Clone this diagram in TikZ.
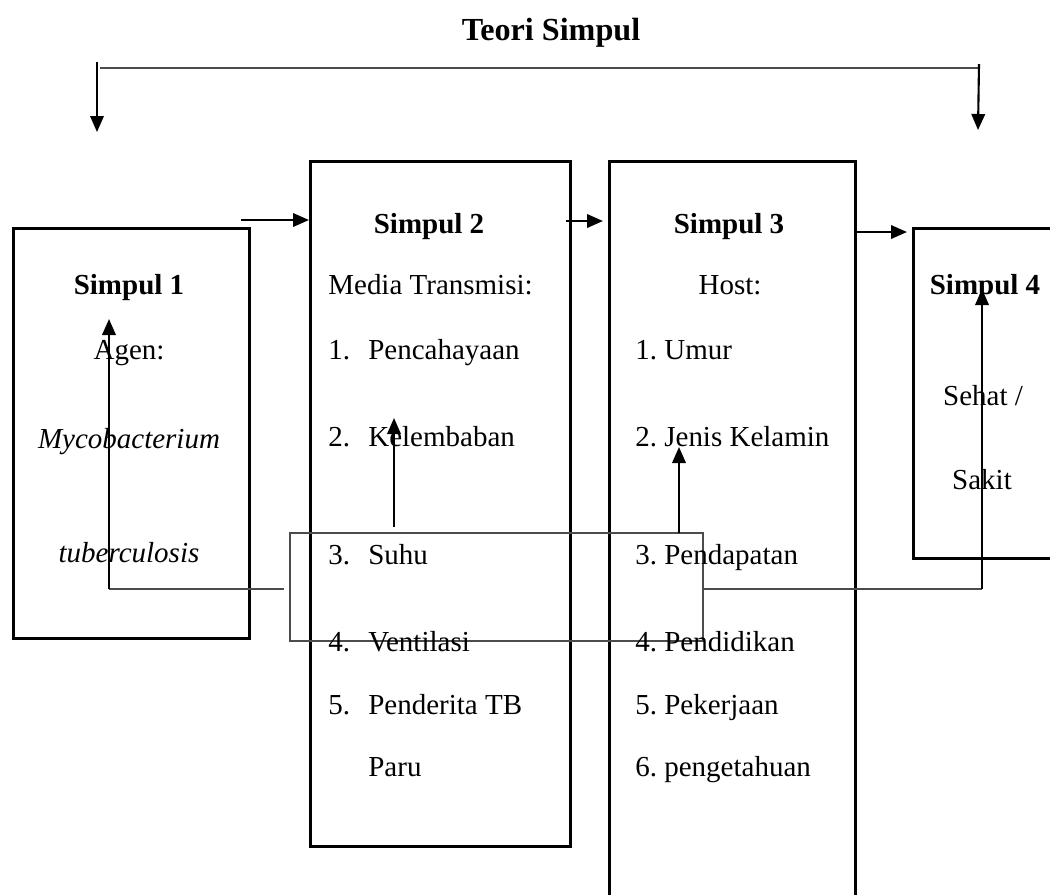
\documentclass[tikz,border=0pt]{standalone}
\usepackage{fontspec}
\setmainfont{Liberation Serif}
\usetikzlibrary{arrows.meta}
\usetikzlibrary{calc}

\tikzset{
  simpul/.style={draw, line width=1.5pt, rectangle, inner sep=0pt, anchor=north west},
  teks/.style={font=\fontsize{16.5}{20}\selectfont, inner sep=0pt, anchor=base},
  tebal/.style={teks, font=\fontsize{16.5}{20}\selectfont\bfseries},
  miring/.style={teks, font=\fontsize{16.5}{20}\selectfont\itshape},
  kiri/.style={teks, anchor=base west},
  panah/.style={line width=1.2pt, -{Triangle[length=0.32cm, width=0.27cm]}},
  garis/.style={line width=0.9pt, black!70},
}

\begin{document}
\frenchspacing
\begin{tikzpicture}[x=0.02cm, y=-0.02cm]
    \useasboundingbox (0,0) rectangle (1050,894);
    \clip (0,0) rectangle (1050,894);

    % judul dan kurung atas
    \node[teks, font=\fontsize{18.3}{22}\selectfont\bfseries] (judul) at (551,40) {Teori Simpul};
    \coordinate (ka) at (100,68); \coordinate (kb) at (978,68);
    \coordinate (ka1) at (97,62); \coordinate (ka2) at (97,132);
    \coordinate (kb1) at (979,64); \coordinate (kb2) at (978,130);
    \draw[garis, line width=1.1pt] (ka) -- (kb);
    \draw[panah] (ka1) -- (ka2);
    \draw[panah] (kb1) -- (kb2);

    % kotak simpul
    \node[simpul, minimum width=4.72cm, minimum height=8.2cm] (s1) at (12,227) {};
    \node[simpul, minimum width=5.2cm, minimum height=13.7cm] (s2) at (309,160) {};
    \node[simpul, minimum width=4.92cm, minimum height=15.4cm] (s3) at (608,160) {};
    \node[simpul, minimum width=3.4cm, minimum height=6.6cm] (s4) at (912,227) {};
    \node[draw, garis, rectangle, inner sep=0pt, anchor=north west,
          minimum width=8.26cm, minimum height=2.16cm] (pusat) at (289,532) {};

    % simpul 1
    \node[tebal] (j1) at (129,294) {Simpul 1};
    \node[teks] (agen) at (129,359) {Agen:};
    \node[miring] (myc) at (129,448) {Mycobacterium};
    \node[miring] (tbc) at (129,562) {tuberculosis};

    % simpul 2
    \node[tebal] (j2) at (429,233) {Simpul 2};
    \node[kiri] (media) at (328,294) {Media Transmisi:};
    \foreach \i/\y/\t in {1/359/Pencahayaan, 2/446/Kelembaban, 3/564/Suhu,
                          4/651/Ventilasi, 5/714/Penderita TB}{
      \node[kiri] (n\i) at (328,\y) {\i.};
      \node[kiri] (m\i) at (368,\y) {\t};
    }
    \node[kiri] (m6) at (368,776) {Paru};

    % simpul 3
    \node[tebal] (j3) at (729,233) {Simpul 3};
    \node[teks] (host) at (730,294) {Host:};
    \foreach \i/\y/\t in {1/359/Umur, 2/446/Jenis Kelamin, 3/564/Pendapatan,
                          4/651/Pendidikan, 5/714/Pekerjaan, 6/776/pengetahuan}{
      \node[kiri] (h\i) at (635,\y) {\i. \t};
    }

    % simpul 4
    \node[tebal] (j4) at (985,294) {Simpul 4};
    \node[teks] (sehat) at (983,405) {Sehat /};
    \node[teks] (sakit) at (982,489) {Sakit};

    % panah antar simpul
    \coordinate (p1) at (241,220); \coordinate (p2) at (566,221); \coordinate (p3) at (854,232);
    \draw[panah] (p1) -- (p1 -| s2.west);
    \draw[panah] (p2) -- ($(p2 -| s3.west)+(-5,0)$);
    \draw[panah] (p3) -- ($(p3 -| s4.west)+(-5,0)$);

    % panah dalam kotak
    \coordinate (q1) at (109,589); \coordinate (q1t) at (109,319); \coordinate (q1e) at (284,589);
    \draw[garis] (q1) -- (q1e);
    \draw[panah] (q1) -- (q1t);
    \coordinate (q2) at (394,527); \coordinate (q2t) at (394,418);
    \draw[panah] (q2) -- (q2t);
    \coordinate (q3) at (679,533); \coordinate (q3t) at (679,447);
    \draw[panah] (q3) -- (q3t);
    \coordinate (q4) at (982,589); \coordinate (q4t) at (982,289);
    \draw[garis] (pusat.east |- q4) -- (q4);
    \draw[panah] (q4) -- (q4t);
\end{tikzpicture}
\end{document}
